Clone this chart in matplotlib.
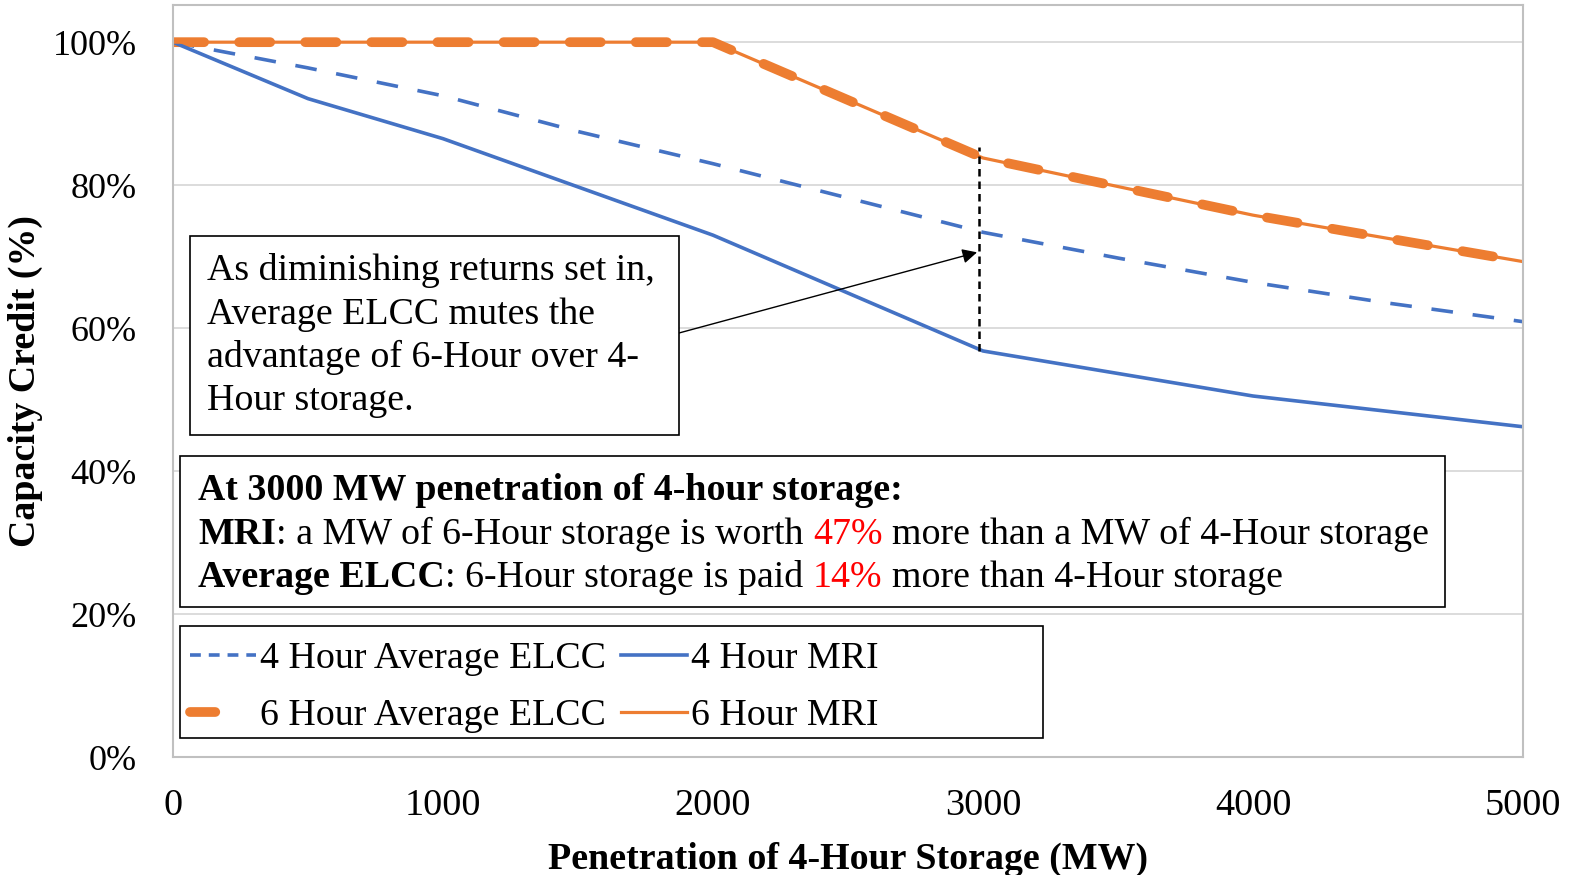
import matplotlib.pyplot as plt
from matplotlib.patches import Rectangle
from matplotlib.lines import Line2D

plt.rcParams['font.family'] = 'Liberation Serif'

# penetration of 4-hour storage (MW)
x_avg4 = [0, 500, 1000, 1500, 2000, 2500, 3000, 3500, 4000, 4500, 5000]
avg_elcc_4h = [100, 96.4, 92.5, 87.5, 83.0, 78.2, 73.4, 69.8, 66.4, 63.5, 60.9]

x_mri4 = [0, 500, 1000, 2000, 3000, 4000, 5000]
mri_4h = [100, 92.1, 86.5, 73.0, 56.8, 50.5, 46.2]

x_6h = [0, 1000, 2000, 3000, 4000, 5000]
avg_elcc_6h = [100, 100, 100, 83.8, 75.8, 69.3]
mri_6h = [100, 100, 100, 83.8, 75.8, 69.3]

x_ticks = [0, 1000, 2000, 3000, 4000, 5000]
y_ticks = [0, 20, 40, 60, 80, 100]

BLUE = '#4472C4'
ORANGE = '#ED7D31'
W, H = 1572, 875
FS = 27.3


def fx(px):
    return px / W


def fy(py):
    return 1 - py / H


fig = plt.figure(figsize=(W / 100, H / 100), dpi=100)
ax = fig.add_axes([fx(173), fy(757), (1523 - 173) / W, (757 - 5) / H])

ax.plot(x_avg4, avg_elcc_4h, color=BLUE, lw=2.6, dashes=(6, 5.5))
ax.plot(x_6h, avg_elcc_6h, color=ORANGE, lw=7, dashes=(3.2, 3.6), dash_capstyle='round')
ax.plot(x_mri4, mri_4h, color=BLUE, lw=2.6)
ax.plot(x_6h, mri_6h, color=ORANGE, lw=2.3)

ax.set_xlim(0, 5000)
ax.set_ylim(0, 105.2)
ax.set_xticks(x_ticks)
ax.set_yticks(y_ticks)
ax.set_yticklabels([f'{v}%' for v in y_ticks])
ax.tick_params(length=0)
ax.tick_params(axis='y', pad=26, labelsize=26)
ax.tick_params(axis='x', pad=23, labelsize=27.5)
ax.grid(axis='y', color='#d9d9d9', lw=1.3)
ax.set_axisbelow(True)
for s in ax.spines.values():
    s.set_color('#c0c0c0')
    s.set_linewidth(1.5)

ax.set_xlabel('Penetration of 4-Hour Storage (MW)', fontsize=FS, fontweight='bold', labelpad=13)
ax.set_ylabel('Capacity Credit (%)', fontsize=FS, fontweight='bold', labelpad=7)

# vertical marker at 3000 MW
ax.plot([2985, 2985], [mri_4h[4], avg_elcc_6h[3] + 1.5], color='black', lw=1.8,
        dashes=(3, 2), zorder=5)

# annotation box 1
fig.patches.append(Rectangle((fx(190), fy(435)), (679 - 190) / W, (435 - 236) / H,
                             transform=fig.transFigure, fill=True, fc='white',
                             ec='black', lw=1.2, zorder=3))
box1 = ['As diminishing returns set in,', 'Average ELCC mutes the',
        'advantage of 6-Hour over 4-', 'Hour storage.']
for i, line in enumerate(box1):
    fig.text(fx(207), fy(280 + i * 43.5), line, fontsize=FS, va='baseline', zorder=4)

ax.annotate('', xy=(2978, 70.6), xycoords='data',
            xytext=(fx(679), fy(333)), textcoords='figure fraction',
            arrowprops=dict(arrowstyle='-|>', color='black', lw=1.0,
                            mutation_scale=22, shrinkA=0, shrinkB=0), zorder=6)

# annotation box 2
fig.patches.append(Rectangle((fx(180), fy(607)), (1445 - 180) / W, (607 - 456) / H,
                             transform=fig.transFigure, fill=True, fc='white',
                             ec='black', lw=1.2, zorder=3))

renderer = fig.canvas.get_renderer()


def rich_line(x0, y0, parts):
    x = x0
    for text, weight, color in parts:
        if text == ' ':
            t = fig.text(0, 0, 'a a', fontsize=FS)
            t2 = fig.text(0, 0, 'aa', fontsize=FS)
            x += t.get_window_extent(renderer).width - t2.get_window_extent(renderer).width
            t.remove()
            t2.remove()
            continue
        t = fig.text(fx(x), fy(y0), text, fontsize=FS, fontweight=weight, color=color,
                     va='baseline', zorder=4)
        x += t.get_window_extent(renderer).width


rich_line(198, 500, [('At 3000 MW penetration of 4-hour storage:', 'bold', 'black')])
rich_line(198, 544, [('MRI', 'bold', 'black'),
                     (': a MW of 6-Hour storage is worth', 'normal', 'black'), (' ', '', ''),
                     ('47%', 'normal', 'red'), (' ', '', ''),
                     ('more than a MW of 4-Hour storage', 'normal', 'black')])
rich_line(198, 587, [('Average ELCC', 'bold', 'black'),
                     (': 6-Hour storage is paid', 'normal', 'black'), (' ', '', ''),
                     ('14%', 'normal', 'red'), (' ', '', ''),
                     ('more than 4-Hour storage', 'normal', 'black')])

# legend with its own (wider) frame, drawn inside the axes below the legend
frame = Rectangle((fx(180), fy(738)), (1043 - 180) / W, (738 - 626) / H,
                  transform=fig.transFigure, fill=True, fc='white',
                  ec='black', lw=1.2, zorder=4.5)
ax.add_artist(frame)
handles = [
    Line2D([], [], color=BLUE, lw=2.6, dashes=(3, 2.2)),
    Line2D([], [], color=ORANGE, lw=7, dashes=(2.6, 12), dash_capstyle='round'),
    Line2D([], [], color=BLUE, lw=2.6),
    Line2D([], [], color=ORANGE, lw=2.3),
]
labels = ['4 Hour Average ELCC', '6 Hour Average ELCC', '4 Hour MRI', '6 Hour MRI']
leg = ax.legend(handles, labels, ncol=2, fontsize=FS, loc='upper left',
                bbox_to_anchor=(fx(182), fy(634)), bbox_transform=fig.transFigure,
                borderaxespad=0, frameon=False, handlelength=1.75, handletextpad=0.1,
                columnspacing=0.4, labelspacing=0.6, borderpad=0.2)
leg.set_zorder(6)

fig.savefig('out.png', dpi=100)
